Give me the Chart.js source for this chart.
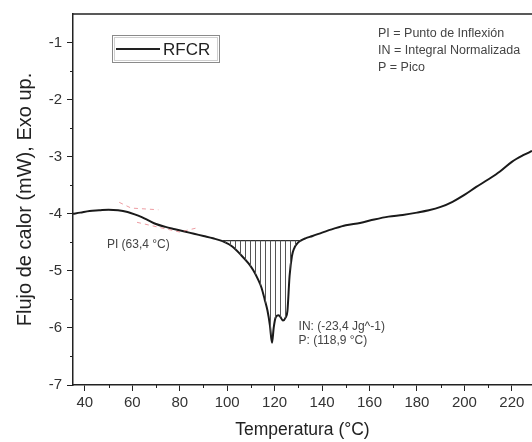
<!DOCTYPE html>
<html>
<head>
<meta charset="utf-8">
<script src="https://cdn.jsdelivr.net/npm/chart.js@4/dist/chart.umd.min.js"></script>
<style>
  body { margin: 0; background: #fff; }
  canvas { display: block; }
</style>
</head>
<body>
<canvas id="dsc" width="532" height="442"></canvas>
<script>
// DSC curve, RFCR sample
const temps = [35, 38, 42, 46, 50, 54, 58, 61, 64, 67, 70, 74, 78, 82, 86, 90, 94, 98, 102, 106, 109, 111, 113, 114.5, 115.8, 117, 118, 118.9, 119.6, 120.4, 121.5, 122.3, 123.5, 124.6, 125.4, 126.3, 127.3, 128.3, 129.3, 131, 133, 136, 140, 145, 150, 156, 162, 168, 174, 180, 185, 190, 195, 200, 205, 210, 215, 220, 225, 228.5];
const flow = [-4.00, -3.98, -3.95, -3.94, -3.93, -3.94, -3.97, -4.01, -4.06, -4.12, -4.18, -4.23, -4.27, -4.31, -4.35, -4.39, -4.43, -4.48, -4.57, -4.73, -4.87, -4.99, -5.15, -5.30, -5.50, -5.70, -5.95, -6.26, -6.00, -5.82, -5.78, -5.80, -5.87, -5.82, -5.70, -5.09, -4.74, -4.60, -4.53, -4.47, -4.43, -4.39, -4.33, -4.26, -4.20, -4.16, -4.10, -4.05, -4.02, -3.98, -3.94, -3.88, -3.79, -3.67, -3.53, -3.40, -3.26, -3.09, -2.97, -2.90];

// integration limits and baseline of the melting peak
const peakStart = 98;
const peakEnd = 131;
const baseline = -4.47;

// tangent construction for the inflexion point
const tangent1T = [54.5, 59.5, 71];
const tangent1V = [-3.80, -3.90, -3.93];
const tangent2T = [62, 80, 88];
const tangent2V = [-4.15, -4.32, -4.24];

const xTicks = [40, 60, 80, 100, 120, 140, 160, 180, 200, 220];
const xMinor = [50, 70, 90, 110, 130, 150, 170, 190, 210];
const yTicks = [-7, -6, -5, -4, -3, -2, -1];
const yMinor = [-6.5, -5.5, -4.5, -3.5, -2.5, -1.5];

const curve = temps.map((t, i) => ({x: t, y: flow[i]}));
const peakPart = curve.filter(p => p.x >= peakStart && p.x <= peakEnd);

// vertical hatch pattern
const pc = document.createElement('canvas');
pc.width = 5; pc.height = 4;
const pctx = pc.getContext('2d');
pctx.fillStyle = '#555';
pctx.fillRect(0, 0, 1, 4);
const hatch = pctx.createPattern(pc, 'repeat');

const font = '"Liberation Sans", Arial, sans-serif';

const extras = {
  id: 'extras',
  afterDraw(chart) {
    const {ctx, chartArea: a, scales: {x, y}} = chart;
    ctx.save();
    ctx.strokeStyle = '#222';
    // top frame
    ctx.lineWidth = 1.5;
    ctx.beginPath();
    ctx.moveTo(a.left, a.top);
    ctx.lineTo(a.right, a.top);
    ctx.stroke();
    // minor ticks
    ctx.lineWidth = 1;
    ctx.beginPath();
    xMinor.forEach(v => {
      const px = Math.round(x.getPixelForValue(v)) + 0.5;
      ctx.moveTo(px, a.bottom);
      ctx.lineTo(px, a.bottom + 3);
    });
    yMinor.forEach(v => {
      const py = Math.round(y.getPixelForValue(v)) + 0.5;
      ctx.moveTo(a.left, py);
      ctx.lineTo(a.left - 3, py);
    });
    ctx.stroke();

    // legend box
    ctx.strokeStyle = '#8a8a8a';
    ctx.strokeRect(112.5, 35.5, 107, 27);
    ctx.strokeStyle = '#cfcfcf';
    ctx.strokeRect(114.5, 37.5, 103, 23);
    ctx.strokeStyle = '#222';
    ctx.lineWidth = 2;
    ctx.beginPath();
    ctx.moveTo(116, 49);
    ctx.lineTo(160, 49);
    ctx.stroke();
    ctx.fillStyle = '#222';
    ctx.font = '17px ' + font;
    ctx.textBaseline = 'middle';
    ctx.textAlign = 'left';
    ctx.fillText('RFCR', 163, 50);

    // notes
    ctx.fillStyle = '#444';
    ctx.font = '12.5px ' + font;
    ctx.fillText('PI = Punto de Inflexión', 378, 34);
    ctx.fillText('IN = Integral Normalizada', 378, 51);
    ctx.fillText('P = Pico', 378, 68);

    ctx.font = '12px ' + font;
    ctx.fillText('PI (63,4 °C)', x.getPixelForValue(49.3), y.getPixelForValue(-4.55));
    ctx.fillText('IN: (-23,4 Jg^-1)', x.getPixelForValue(130.1), y.getPixelForValue(-5.97));
    ctx.fillText('P: (118,9 °C)', x.getPixelForValue(130.1), y.getPixelForValue(-6.23));
    ctx.restore();
  }
};

new Chart(document.getElementById('dsc'), {
  type: 'scatter',
  data: {
    datasets: [
      {
        data: peakPart,
        showLine: true,
        borderWidth: 0,
        pointRadius: 0,
        cubicInterpolationMode: 'monotone',
        backgroundColor: hatch,
        fill: {value: baseline}
      },
      {
        data: [{x: peakStart, y: baseline}, {x: peakEnd, y: baseline}],
        showLine: true,
        borderColor: '#333',
        borderWidth: 1.2,
        pointRadius: 0
      },
      {
        data: tangent1T.map((t, i) => ({x: t, y: tangent1V[i]})),
        showLine: true,
        borderColor: 'rgba(225,90,100,0.6)',
        borderWidth: 1,
        borderDash: [4, 4],
        pointRadius: 0
      },
      {
        data: tangent2T.map((t, i) => ({x: t, y: tangent2V[i]})),
        showLine: true,
        borderColor: 'rgba(225,90,100,0.6)',
        borderWidth: 1,
        borderDash: [4, 4],
        pointRadius: 0
      },
      {
        label: 'RFCR',
        data: curve,
        showLine: true,
        borderColor: '#1a1a1a',
        borderWidth: 2,
        pointRadius: 0,
        cubicInterpolationMode: 'monotone'
      }
    ]
  },
  options: {
    responsive: false,
    animation: false,
    devicePixelRatio: 1,
    layout: {padding: {top: 13, right: 0, left: 0, bottom: 0}},
    plugins: {legend: {display: false}, tooltip: {enabled: false}},
    scales: {
      x: {
        type: 'linear',
        min: 35,
        max: 228.5,
        afterBuildTicks: s => { s.ticks = xTicks.map(v => ({value: v})); },
        afterFit: s => { s.height = 57; },
        grid: {drawOnChartArea: false, tickLength: 6, color: '#222'},
        border: {display: true, color: '#222', width: 1.5},
        ticks: {color: '#333', font: {family: font, size: 15}, padding: 3, maxRotation: 0},
        title: {display: true, text: 'Temperatura (°C)', color: '#222', font: {family: font, size: 17.5}, padding: {top: 0, bottom: 1.5}}
      },
      y: {
        min: -7,
        max: -0.5,
        afterBuildTicks: s => { s.ticks = yTicks.map(v => ({value: v})); },
        afterFit: s => { s.width = 73; },
        grid: {drawOnChartArea: false, tickLength: 6, color: '#222'},
        border: {display: true, color: '#222', width: 1.5},
        ticks: {color: '#333', font: {family: font, size: 15}, padding: 5},
        title: {display: true, text: 'Flujo de calor (mW), Exo up.', color: '#222', font: {family: font, size: 20}, padding: {top: 13, bottom: 0}}
      }
    }
  },
  plugins: [extras]
});
</script>
</body>
</html>
